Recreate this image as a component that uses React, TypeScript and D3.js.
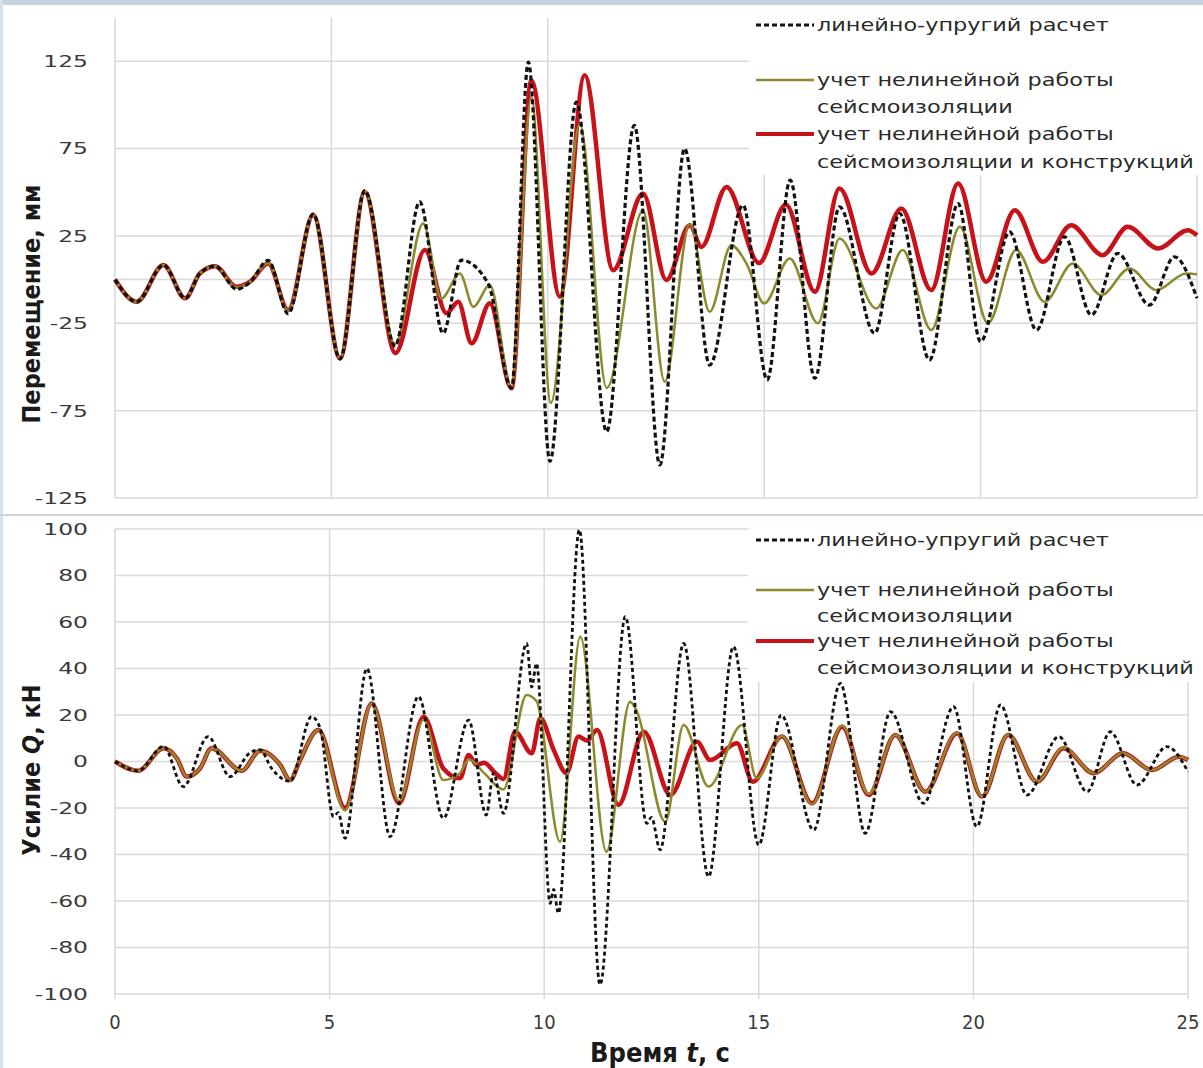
import React, { useRef, useEffect } from "react";
import * as d3 from "d3";

type Pt = [number, number];

// time ticks, s
const timeTicks = [0, 5, 10, 15, 20, 25];
const dispTicks = [125, 75, 25, -25, -75, -125];
const forceTicks = [100, 80, 60, 40, 20, 0, -20, -40, -60, -80, -100];

const legendTop = [
  ["линейно-упругий  расчет"],
  ["учет нелинейной  работы", "сейсмоизоляции"],
  ["учет нелинейной  работы", "сейсмоизоляции  и конструкций"],
];
const legendBottom = [
  ["линейно-упругий расчет"],
  ["учет нелинейной работы", "сейсмоизоляции"],
  ["учет нелинейной работы", "сейсмоизоляции и конструкций"],
];

// displacement, mm (peaks / troughs)
const dispElastic: Pt[] = [
  [0, 0], [0.5, -12.7], [1.12, 8.3], [1.62, -10.7], [1.96, 3.5], [2.31, 7.7], [2.81, -5.5],
  [3.12, -1.5], [3.54, 11], [4.0, -19.5], [4.58, 37.5], [5.2, -45.5], [5.77, 51], [6.47, -38],
  [7.04, 44.5], [7.58, -30.7], [8.0, 11.1], [8.62, -2.2], [9.16, -62], [9.55, 124.5],
  [10.05, -104], [10.66, 101.6], [11.36, -87], [12.0, 88.3], [12.59, -106], [13.16, 75],
  [13.74, -48.9], [14.51, 42.6], [15.07, -57.4], [15.6, 56.9], [16.17, -56.5], [16.74, 41.6],
  [17.55, -30.7], [18.13, 37.8], [18.82, -46], [19.48, 43.5], [20.0, -35.5], [20.67, 27.3],
  [21.29, -28.9], [21.94, 24.5], [22.56, -20.3], [23.17, 15], [23.9, -14.6], [24.48, 13],
  [25, -10.7],
];
const dispIsol: Pt[] = [
  [0, 0], [0.5, -12.7], [1.12, 8.3], [1.62, -10.7], [1.96, 3.5], [2.31, 7.7], [2.81, -4.5],
  [3.12, -1.2], [3.54, 9.5], [4.0, -18], [4.58, 37], [5.2, -45], [5.77, 50.5], [6.47, -37],
  [7.12, 32.1], [7.54, -10.8], [7.97, 3.5], [8.28, -15.5], [8.66, -3.1], [9.16, -62],
  [9.62, 104.5], [10.07, -70.7], [10.74, 89.2], [11.36, -62], [12.2, 39.7], [12.7, -58.4],
  [13.28, 32], [13.74, -18.4], [14.24, 19.7], [14.59, 9.2], [15.0, -13.6], [15.59, 12.1],
  [16.24, -25], [16.74, 23.5], [17.59, -16.5], [18.2, 16.9], [18.86, -28.9], [19.52, 30.2],
  [20.17, -25], [20.82, 16.9], [21.48, -12.7], [22.13, 9.2], [22.79, -8.9], [23.44, 6.4],
  [24.06, -6], [24.75, 3.5], [25, 3],
];
const dispFull: Pt[] = [
  [0, 0], [0.5, -12.7], [1.12, 8.3], [1.62, -10.7], [1.96, 3.5], [2.31, 7.7], [2.81, -4.1],
  [3.12, -1.2], [3.54, 9.2], [4.0, -17.4], [4.58, 36.9], [5.2, -45], [5.77, 50.2], [6.48, -42],
  [7.16, 16.9], [7.66, -19.3], [7.93, -12.7], [8.24, -36.5], [8.66, -13.6], [9.16, -62.2],
  [9.62, 114], [10.28, -9.8], [10.85, 116.9], [11.51, 5.4], [12.2, 49.3], [12.74, -0.3],
  [13.28, 31.1], [13.55, 18.7], [14.13, 53], [14.88, 9.5], [15.5, 43], [16.17, -7],
  [16.74, 52.1], [17.48, 3.5], [18.17, 40.7], [18.86, -6], [19.48, 55], [20.13, -1.2],
  [20.79, 39.7], [21.44, 10.2], [22.09, 31.1], [22.82, 14], [23.4, 30.2], [24.1, 17.8],
  [24.79, 28.3], [25, 25.4],
];

// force Q, kN
const forceElastic: Pt[] = [
  [0, 0], [0.54, -4], [1.13, 6.5], [1.59, -10.8], [2.17, 10.7], [2.68, -6.5], [3.15, 3.8],
  [3.38, 5], [3.65, -3], [4.08, -8.5], [4.58, 19.3], [4.78, 14.3], [5.09, -23.7], [5.2, -22],
  [5.36, -33], [5.87, 40], [6.41, -32.3], [7.07, 27.9], [7.65, -24.4], [8.24, 17.8],
  [8.65, -23], [8.82, -5], [9.05, -22.3], [9.59, 50.8], [9.71, 32], [9.82, 42.2],
  [10.14, -61], [10.22, -55], [10.33, -65.3], [10.82, 99.6], [11.3, -96], [11.89, 62.3],
  [12.39, -26.6], [12.5, -24], [12.7, -38], [13.25, 50.8], [13.83, -49.5], [14.41, 49.4],
  [15.0, -35.9], [15.52, 20], [16.28, -29.5], [16.9, 33.6], [17.48, -30.9], [18.07, 21.4],
  [18.84, -18], [19.54, 23.6], [20.08, -28], [20.63, 24.3], [21.25, -14.4], [21.99, 10.7],
  [22.65, -13], [23.19, 12.8], [23.81, -10.1], [24.51, 6.4], [25, -4.4],
];
const forceIsol: Pt[] = [
  [0, 0], [0.54, -4], [1.13, 5.7], [1.44, 1.4], [1.67, -6.5], [1.98, -3], [2.25, 5.7],
  [2.95, -4], [3.38, 4.6], [3.85, -1.5], [4.08, -8], [4.31, 0.6], [4.74, 13.5], [5.36, -21],
  [5.98, 25], [6.62, -17], [7.19, 18], [7.65, -8], [8.04, -5], [8.24, 1], [8.6, -5],
  [9.05, -12], [9.59, 28.6], [9.82, 26], [10.37, -34.5], [10.84, 53.7], [11.45, -38.8],
  [12.0, 25.7], [12.15, 22], [12.82, -25.9], [13.25, 15.7], [13.83, -10.8], [14.61, 15.7],
  [14.95, -7.2], [15.54, 11], [16.24, -18.5], [16.94, 15.5], [17.56, -14], [18.18, 11.5],
  [18.88, -13], [19.62, 12.5], [20.2, -15], [20.81, 11.5], [21.48, -8.7], [22.1, 6],
  [22.8, -5], [23.49, 3.5], [24.16, -3.7], [24.79, 2], [25, 0.6],
];
const forceFull: Pt[] = [
  [0, 0], [0.54, -4], [1.13, 5.7], [1.44, 1.4], [1.67, -6.5], [1.98, -3], [2.25, 5.7],
  [2.95, -4], [3.38, 4.6], [3.85, -1.5], [4.08, -8], [4.31, 0.6], [4.74, 13.5], [5.36, -20],
  [5.98, 25], [6.62, -18], [7.19, 19.3], [7.65, -3], [8.04, -7.2], [8.24, 2.8], [8.43, -1.5],
  [8.6, -0.5], [8.86, -5], [9.05, -7.5], [9.32, 12.8], [9.71, 3.5], [9.91, 18.6],
  [10.22, 5], [10.52, -5], [10.8, 10.7], [11.0, 9], [11.23, 13.5], [11.73, -18.7],
  [12.32, 12.8], [12.94, -14.4], [13.56, 8.5], [13.87, 0.6], [14.49, 7.8], [14.86, -8.7],
  [15.54, 10.7], [16.24, -18], [16.94, 15], [17.56, -14.4], [18.18, 11.4], [18.88, -13],
  [19.62, 12.1], [20.2, -15.1], [20.81, 11.4], [21.48, -8.7], [22.1, 5.7], [22.8, -5],
  [23.49, 3.5], [24.16, -3.7], [24.79, 2], [25, 0.6],
];

const RED = "#c8121a";
const OLIVE = "#8c8a2c";
const BLACK = "#111";
const GRID = "#d9d9d9";
const TXT = "#3a3a3a";
const NARROW = "'Liberation Sans Narrow', 'DejaVu Sans Condensed', 'Roboto', sans-serif";

const App = () => {
  const svgRef = useRef<SVGSVGElement>(null);

  useEffect(() => {
    document.body.style.margin = "0";
    const svg = d3.select(svgRef.current);
    svg.selectAll("*").remove();

    // frame
    svg.append("rect").attr("width", 1203).attr("height", 1068).attr("fill", "#fff");
    svg.append("rect").attr("width", 1203).attr("height", 5).attr("fill", "#c6d4e1");
    svg.append("rect").attr("width", 3).attr("height", 1068).attr("fill", "#d3e1ee");
    svg.append("line").attr("x1", 0).attr("x2", 1203).attr("y1", 515).attr("y2", 515)
      .attr("stroke", "#cdd3da").attr("stroke-width", 2);

    const panel = (opt: {
      x0: number; x1: number; yDom: [number, number]; yRange: [number, number];
      ticks: number[]; legendBox: [number, number, number, number];
      legendY: number[]; labels: string[][];
      series: { data: Pt[]; color: string; width: number; dash?: string }[];
      xTicks: boolean;
    }) => {
      const x = d3.scaleLinear().domain([0, 25]).range([opt.x0, opt.x1]);
      const y = d3.scaleLinear().domain(opt.yDom).range(opt.yRange);
      const g = svg.append("g");

      // horizontal grid + zero line
      const hLines = Array.from(new Set([...opt.ticks, 0]));
      g.selectAll(".hg").data(hLines).enter().append("line")
        .attr("x1", x(0)).attr("x2", x(25))
        .attr("y1", (d) => y(d)).attr("y2", (d) => y(d))
        .attr("stroke", GRID).attr("stroke-width", 1.5);

      // vertical grid
      g.selectAll(".vg").data(timeTicks).enter().append("line")
        .attr("x1", (d) => x(d)).attr("x2", (d) => x(d))
        .attr("y1", y(opt.yDom[1])).attr("y2", y(opt.yDom[0]))
        .attr("stroke", GRID).attr("stroke-width", 1.5);

      // y tick labels (stretched like the original)
      opt.ticks.forEach((t) => {
        g.append("g").attr("transform", `translate(88,${y(t)}) scale(1.42,1)`)
          .append("text").attr("text-anchor", "end").attr("dy", "0.36em")
          .attr("font-family", "'DejaVu Sans', Verdana, sans-serif").attr("font-size", 16.5)
          .attr("fill", TXT).text(String(t));
      });

      if (opt.xTicks) {
        g.selectAll(".xt").data(timeTicks).enter().append("line")
          .attr("x1", (d) => x(d)).attr("x2", (d) => x(d))
          .attr("y1", y(opt.yDom[0])).attr("y2", y(opt.yDom[0]) + 5)
          .attr("stroke", GRID).attr("stroke-width", 1.5);
        g.selectAll(".xl").data(timeTicks).enter().append("text")
          .attr("x", (d) => x(d)).attr("y", 1029).attr("text-anchor", "middle")
          .attr("font-family", NARROW).attr("font-size", 20).attr("fill", TXT)
          .text((d) => String(d));
      }

      const line = d3.line<Pt>()
        .x((d) => x(d[0]))
        .y((d) => y(d[1]))
        .curve(d3.curveMonotoneX);

      opt.series.forEach((s) => {
        g.append("path").datum(s.data)
          .attr("fill", "none").attr("stroke", s.color)
          .attr("stroke-width", s.width)
          .attr("stroke-dasharray", s.dash || null)
          .attr("stroke-linejoin", "round")
          .attr("d", line);
      });

      // legend
      const [lx, ly, lw, lh] = opt.legendBox;
      g.append("rect").attr("x", lx).attr("y", ly).attr("width", lw).attr("height", lh).attr("fill", "#fff");
      const keys = [
        { color: BLACK, width: 3, dash: "5,3" },
        { color: OLIVE, width: 2.5 },
        { color: RED, width: 4 },
      ];
      let row = 0;
      keys.forEach((k, i) => {
        g.append("line").attr("x1", 756).attr("x2", 814)
          .attr("y1", opt.legendY[row]).attr("y2", opt.legendY[row])
          .attr("stroke", k.color).attr("stroke-width", k.width)
          .attr("stroke-dasharray", k.dash || null);
        opt.labels[i].forEach((txt) => {
          g.append("g").attr("transform", `translate(817,${opt.legendY[row]}) scale(1.28,1)`)
            .append("text").attr("dy", "0.35em")
            .attr("font-family", "'DejaVu Sans', Verdana, sans-serif").attr("font-size", 17.5)
            .attr("fill", "#2a2a2a").text(txt);
          row++;
        });
      });
    };

    panel({
      x0: 115, x1: 1197, yDom: [-125, 150], yRange: [498, 17.5],
      ticks: dispTicks, legendBox: [749, 7, 454, 168],
      legendY: [25, 80, 107, 134, 162], labels: legendTop,
      series: [
        { data: dispFull, color: RED, width: 4.5 },
        { data: dispIsol, color: OLIVE, width: 2.5 },
        { data: dispElastic, color: BLACK, width: 3.2, dash: "5,3" },
      ],
      xTicks: false,
    });

    panel({
      x0: 115, x1: 1188, yDom: [-100, 100], yRange: [994, 529],
      ticks: forceTicks, legendBox: [748, 520, 455, 162],
      legendY: [540, 590, 616, 641, 668], labels: legendBottom,
      series: [
        { data: forceFull, color: RED, width: 4.5 },
        { data: forceIsol, color: OLIVE, width: 2.5 },
        { data: forceElastic, color: BLACK, width: 2.8, dash: "4,3" },
      ],
      xTicks: true,
    });

    // axis titles
    const yTitle = (cx: number, cy: number, parts: [string, boolean][]) => {
      const t = svg.append("text")
        .attr("transform", `translate(${cx},${cy}) rotate(-90)`)
        .attr("text-anchor", "middle").attr("dy", "0.35em")
        .attr("font-family", NARROW).attr("font-weight", "bold").attr("font-size", 25)
        .attr("fill", "#1a1a1a");
      parts.forEach(([s, it]) => t.append("tspan").attr("font-style", it ? "italic" : null).text(s));
    };
    yTitle(31, 304, [["Перемещение, мм", false]]);
    yTitle(31, 770, [["Усилие ", false], ["Q", true], [", кН", false]]);

    const xt = svg.append("text").attr("x", 660).attr("y", 1053)
      .attr("text-anchor", "middle").attr("dy", "0.35em")
      .attr("font-family", NARROW).attr("font-weight", "bold").attr("font-size", 27)
      .attr("fill", "#1a1a1a");
    xt.append("tspan").text("Время ");
    xt.append("tspan").attr("font-style", "italic").text("t");
    xt.append("tspan").text(", с");
  }, []);

  return <svg ref={svgRef} width={1203} height={1068} style={{ display: "block" }}></svg>;
};

export default App;
